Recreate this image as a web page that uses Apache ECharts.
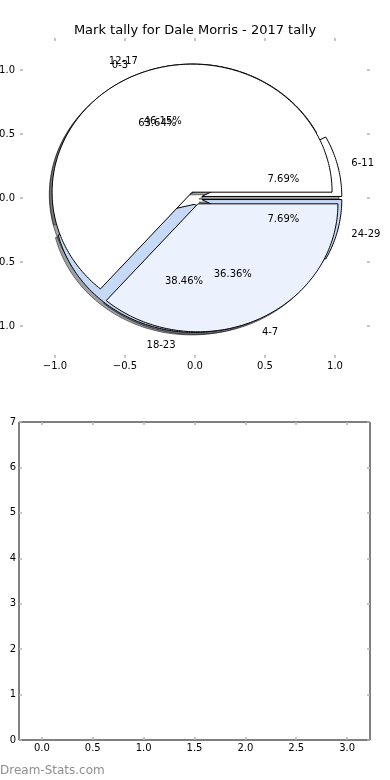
<!DOCTYPE html>
<html><head><meta charset="utf-8">
<script src="https://cdn.jsdelivr.net/npm/echarts@6/dist/echarts.min.js"></script>
<style>html,body{margin:0;padding:0;background:#fff}#c{width:390px;height:780px}</style>
</head><body><div id="c"></div>
<script>
const titleText = 'Mark tally for Dale Morris - 2017 tally';
const outerLabels = ['6-11', '12-17', '18-23', '24-29'];
const outerValues = [1, 6, 5, 1];
const innerLabels = ['0-3', '4-7'];
const innerValues = [7, 4];
const outerColors = ['#ffffff', '#ffffff', '#c6d9f6', '#c6d9f6'];
const innerColors = ['#ffffff', '#ebf1fd'];
const pieTicks = [-1, -0.5, 0, 0.5, 1];
const barXTicks = [0, 0.5, 1, 1.5, 2, 2.5, 3];
const barYTicks = [0, 1, 2, 3, 4, 5, 6, 7];
const watermark = 'Dream-Stats.com';

const FONT = 'DejaVu Sans';
const EXPLODE = 0.05, LABEL_R = 1.1, PCT_R = 0.6, SHADOW = -0.02;
const TICK_COLOR = '#b4b4b4';

function wedges(values) {
  const total = values.reduce((a, b) => a + b, 0);
  let acc = 0;
  return values.map(v => {
    const t1 = acc / total * 360; acc += v;
    const t2 = acc / total * 360;
    return { t1, t2, mid: (t1 + t2) / 2, frac: v / total };
  });
}
function shadowColor(hex) {
  const n = parseInt(hex.slice(1), 16);
  const r = Math.round(((n >> 16) & 255) * 0.3), g = Math.round(((n >> 8) & 255) * 0.3), b = Math.round((n & 255) * 0.3);
  return 'rgba(' + r + ',' + g + ',' + b + ',0.5)';
}
function wedgeRenderer(values, colors, isShadow) {
  const ws = wedges(values);
  return function (params, api) {
    const w = ws[params.dataIndex];
    const m = w.mid * Math.PI / 180;
    let cx = EXPLODE * Math.cos(m), cy = EXPLODE * Math.sin(m);
    if (isShadow) { cx += SHADOW; cy += SHADOW; }
    const pts = [api.coord([cx, cy])];
    const n = Math.max(2, Math.ceil(w.t2 - w.t1));
    for (let k = 0; k <= n; k++) {
      const t = (w.t1 + (w.t2 - w.t1) * k / n) * Math.PI / 180;
      pts.push(api.coord([cx + Math.cos(t), cy + Math.sin(t)]));
    }
    const col = colors[params.dataIndex];
    return {
      type: 'polygon',
      shape: { points: pts },
      style: isShadow
        ? { fill: shadowColor(col), stroke: 'rgba(0,0,0,0.5)', lineWidth: 1 }
        : { fill: col, stroke: '#000', lineWidth: 1, lineJoin: 'miter' }
    };
  };
}
function labelRenderer(values, labels) {
  const ws = wedges(values);
  return function (params, api) {
    const w = ws[params.dataIndex];
    const m = w.mid * Math.PI / 180;
    const cx = EXPLODE * Math.cos(m), cy = EXPLODE * Math.sin(m);
    const lx = cx + LABEL_R * Math.cos(m), ly = cy + LABEL_R * Math.sin(m);
    const px = cx + PCT_R * Math.cos(m), py = cy + PCT_R * Math.sin(m);
    const lp = api.coord([lx, ly]), pp = api.coord([px, py]);
    return {
      type: 'group',
      children: [
        { type: 'text', x: lp[0], y: lp[1] + 1, style: { text: labels[params.dataIndex], fontSize: 10, fontFamily: FONT, fill: '#000', align: lx > 0 ? 'left' : 'right', verticalAlign: 'middle' } },
        { type: 'text', x: pp[0], y: pp[1] + 1, style: { text: (w.frac * 100).toFixed(2) + '%', fontSize: 10, fontFamily: FONT, fill: '#000', align: 'center', verticalAlign: 'middle' } }
      ]
    };
  };
}
const fmt1 = v => (v < 0 ? '\u2212' : '') + Math.abs(v).toFixed(1);

function axis(gridIndex, position, min, max, ticks, label, margin) {
  return {
    type: 'value', gridIndex, position, min, max,
    axisLine: { show: false, onZero: false },
    splitLine: { show: false },
    axisTick: { show: true, inside: true, length: 3, customValues: ticks, lineStyle: { color: TICK_COLOR, width: 1.5 } },
    axisLabel: label
      ? { show: true, customValues: ticks, formatter: label, fontSize: 10, fontFamily: FONT, color: '#000', margin }
      : { show: false }
  };
}

const chart = echarts.init(document.getElementById('c'), null, { renderer: 'canvas' });
chart.setOption({
  animation: false,
  backgroundColor: '#fff',
  title: { text: titleText, left: 'center', top: 19, textStyle: { fontSize: 13, fontWeight: 'normal', fontFamily: FONT, color: '#000' } },
  grid: [
    { left: 20, right: 20, top: 38, height: 320, outerBoundsMode: 'none', containLabel: false },
    { left: 19, right: 20, top: 422, height: 318, outerBoundsMode: 'none', containLabel: false, show: true, borderColor: '#000', borderWidth: 1, backgroundColor: 'transparent' }
  ],
  xAxis: [
    axis(0, 'bottom', -1.25, 1.25, pieTicks, fmt1, 3),
    axis(0, 'top', -1.25, 1.25, pieTicks, null),
    axis(1, 'bottom', -0.225, 3.225, barXTicks, fmt1, 3),
    axis(1, 'top', -0.225, 3.225, barXTicks, null)
  ],
  yAxis: [
    axis(0, 'left', -1.25, 1.25, pieTicks, fmt1, 5),
    axis(0, 'right', -1.25, 1.25, pieTicks, null),
    axis(1, 'left', 0, 7, barYTicks, v => String(v), 3),
    axis(1, 'right', 0, 7, barYTicks, null)
  ],
  series: [
    { type: 'custom', name: 'shadowOuter', xAxisIndex: 0, yAxisIndex: 0, z: 1, silent: true, data: outerValues.map(v => [0, 0, v]), encode: { x: 0, y: 1 }, renderItem: wedgeRenderer(outerValues, outerColors, true) },
    { type: 'custom', name: 'shadowInner', xAxisIndex: 0, yAxisIndex: 0, z: 1, silent: true, data: innerValues.map(v => [0, 0, v]), encode: { x: 0, y: 1 }, renderItem: wedgeRenderer(innerValues, innerColors, true) },
    { type: 'custom', name: 'outer', xAxisIndex: 0, yAxisIndex: 0, z: 2, silent: true, data: outerValues.map(v => [0, 0, v]), encode: { x: 0, y: 1 }, renderItem: wedgeRenderer(outerValues, outerColors, false) },
    { type: 'custom', name: 'inner', xAxisIndex: 0, yAxisIndex: 0, z: 3, silent: true, data: innerValues.map(v => [0, 0, v]), encode: { x: 0, y: 1 }, renderItem: wedgeRenderer(innerValues, innerColors, false) },
    { type: 'custom', name: 'outerLabels', xAxisIndex: 0, yAxisIndex: 0, z: 4, silent: true, data: outerValues.map(v => [0, 0, v]), encode: { x: 0, y: 1 }, renderItem: labelRenderer(outerValues, outerLabels) },
    { type: 'custom', name: 'innerLabels', xAxisIndex: 0, yAxisIndex: 0, z: 5, silent: true, data: innerValues.map(v => [0, 0, v]), encode: { x: 0, y: 1 }, renderItem: labelRenderer(innerValues, innerLabels) }
  ],
  graphic: [
    { type: 'text', left: 0, top: 765, style: { text: watermark, fontSize: 12, fontFamily: FONT, fill: '#8f8f8f' } }
  ]
});
</script>
</body></html>
